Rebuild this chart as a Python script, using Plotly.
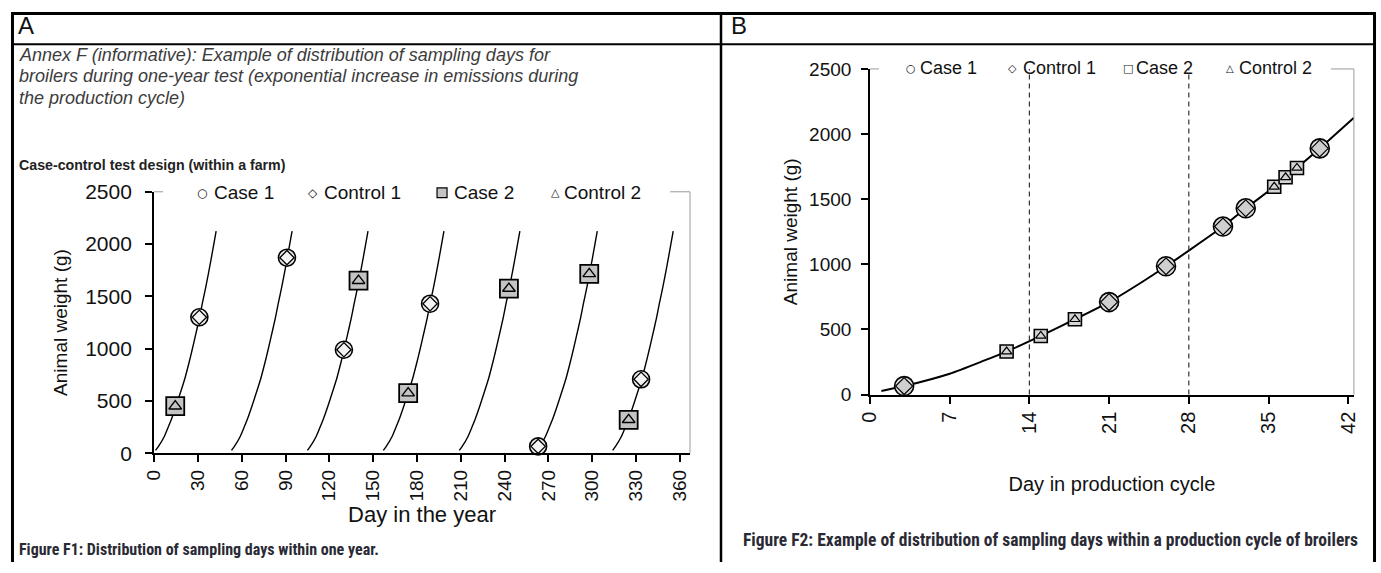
import plotly.graph_objects as go

W, H = 1381, 573
# The page keeps the browser's default 8px body margin; the captured page
# (W+16 x H+16) is fitted back into W x H, so positions are pre-compensated.
MARGIN = 8
SX = W / (W + 2 * MARGIN)
SY = H / (H + 2 * MARGIN)

# ---------------- data ----------------
# growth curve of a broiler flock (day in cycle, weight g)
growth_day = [1, 3, 7, 10, 12, 15, 18, 21, 24, 26, 28, 31, 33, 35.5, 37.5, 39.5, 42.5]
growth_weight = [28, 65, 160, 260, 330, 450, 578, 710, 870, 985, 1105, 1290, 1430, 1595, 1740, 1890, 2125]

# Panel A: start day of each production cycle within the year
cycle_start = [0, 52, 104, 156, 208, 261, 313]
# Panel A sampling days (Case 1 / Control 1 share days, Case 2 / Control 2 share days)
a_pair1_day = [31, 91, 130, 189, 263, 333.5]
a_pair1_weight = [1300, 1870, 990, 1430, 66, 707]
a_pair2_day = [14.5, 140, 174, 243, 298, 325]
a_pair2_weight = [450, 1650, 575, 1575, 1715, 320]

# Panel B sampling days within a production cycle
b_pair1_day = [3, 21, 26, 31, 33, 39.5]
b_pair1_weight = [65, 710, 985, 1290, 1430, 1890]
b_pair2_day = [12, 15, 18, 35.5, 36.5, 37.5]
b_pair2_weight = [330, 450, 578, 1595, 1668, 1740]
b_period_split = [14, 28]

a_xticks = [0, 30, 60, 90, 120, 150, 180, 210, 240, 270, 300, 330, 360]
b_xticks = [0, 7, 14, 21, 28, 35, 42]
yticks = [0, 500, 1000, 1500, 2000, 2500]

legend_names = ["Case 1", "Control 1", "Case 2", "Control 2"]


# ---------------- helpers (target pixel -> paper) ----------------
def px(x):
    v = (x / SX - MARGIN) / W
    return min(max(v, 0.0), 1.0)


def py(y):
    v = 1 - (y / SY - MARGIN) / H
    return min(max(v, 0.0), 1.0)


FONT = "Liberation Sans, Arial, sans-serif"
NARROW = "Liberation Sans Narrow, Roboto Condensed, Liberation Sans, sans-serif"

fig = go.Figure()

# ---------------- Panel A traces ----------------
for i, s in enumerate(cycle_start):
    fig.add_trace(go.Scatter(
        x=[s + d for d in growth_day], y=growth_weight, mode="lines",
        line=dict(color="black", width=1.4, shape="spline", smoothing=0.6),
        showlegend=False, hoverinfo="skip", xaxis="x", yaxis="y"))

fig.add_trace(go.Scatter(x=a_pair1_day, y=a_pair1_weight, mode="markers", name=legend_names[0],
                         marker=dict(symbol="circle", size=17, color="#ececec",
                                     line=dict(color="black", width=1.6)),
                         cliponaxis=False, showlegend=False, xaxis="x", yaxis="y"))
fig.add_trace(go.Scatter(x=a_pair1_day, y=a_pair1_weight, mode="markers", name=legend_names[1],
                         marker=dict(symbol="diamond", size=11, color="#f4f4f4",
                                     line=dict(color="black", width=1.3)),
                         cliponaxis=False, showlegend=False, xaxis="x", yaxis="y"))
fig.add_trace(go.Scatter(x=a_pair2_day, y=a_pair2_weight, mode="markers", name=legend_names[2],
                         marker=dict(symbol="square", size=18, color="#c4c4c4",
                                     line=dict(color="black", width=1.8)),
                         cliponaxis=False, showlegend=False, xaxis="x", yaxis="y"))
fig.add_trace(go.Scatter(x=a_pair2_day, y=a_pair2_weight, mode="markers", name=legend_names[3],
                         marker=dict(symbol="triangle-up-open", size=11, color="black",
                                     line=dict(color="black", width=1.4)),
                         cliponaxis=False, showlegend=False, xaxis="x", yaxis="y"))

# ---------------- Panel B traces ----------------
fig.add_trace(go.Scatter(x=growth_day, y=growth_weight, mode="lines",
                         line=dict(color="black", width=2, shape="spline", smoothing=0.6),
                         showlegend=False, hoverinfo="skip", xaxis="x2", yaxis="y2"))
fig.add_trace(go.Scatter(x=b_pair1_day, y=b_pair1_weight, mode="markers", name=legend_names[0],
                         marker=dict(symbol="circle", size=19, color="#dcdcdc",
                                     line=dict(color="black", width=1.6)),
                         cliponaxis=False, showlegend=False, xaxis="x2", yaxis="y2"))
fig.add_trace(go.Scatter(x=b_pair1_day, y=b_pair1_weight, mode="markers", name=legend_names[1],
                         marker=dict(symbol="diamond", size=13, color="#cfcfcf",
                                     line=dict(color="black", width=1.2)),
                         cliponaxis=False, showlegend=False, xaxis="x2", yaxis="y2"))
fig.add_trace(go.Scatter(x=b_pair2_day, y=b_pair2_weight, mode="markers", name=legend_names[2],
                         marker=dict(symbol="square", size=13, color="#d4d4d4",
                                     line=dict(color="black", width=1.6)),
                         cliponaxis=False, showlegend=False, xaxis="x2", yaxis="y2"))
fig.add_trace(go.Scatter(x=b_pair2_day, y=b_pair2_weight, mode="markers", name=legend_names[3],
                         marker=dict(symbol="triangle-up-open", size=9, color="black",
                                     line=dict(color="black", width=1.2)),
                         cliponaxis=False, showlegend=False, xaxis="x2", yaxis="y2"))

# ---------------- axes ----------------
common = dict(showgrid=False, zeroline=False, showline=True, linecolor="black",
              ticks="outside", ticklen=7, tickwidth=1.5, tickcolor="black")

fig.update_layout(
    xaxis=dict(domain=[px(151), px(687)], range=[0, 367], anchor="y",
               tickvals=a_xticks, tickangle=-90, linewidth=2,
               tickfont=dict(family=FONT, size=19, color="#111"),
               title=dict(text="Day in the year", font=dict(family=FONT, size=22, color="#111"), standoff=3),
               **common),
    yaxis=dict(domain=[py(455), py(190)], range=[0, 2500], anchor="x",
               tickvals=yticks, linewidth=2, ticklabelstandoff=9,
               tickfont=dict(family=FONT, size=21, color="#111"),
               title=dict(text="Animal weight (g)", font=dict(family=FONT, size=19, color="#111"), standoff=12),
               **common),
    xaxis2=dict(domain=[px(867), px(1351)], range=[0, 42.5], anchor="y2",
                tickvals=b_xticks, tickangle=-90, linewidth=2.2,
                tickfont=dict(family=FONT, size=20, color="#111"),
                title=dict(text="Day in production cycle", font=dict(family=FONT, size=20, color="#111"), standoff=44),
                **common),
    yaxis2=dict(domain=[py(395.5), py(65.5)], range=[0, 2500], anchor="x2",
                tickvals=yticks, linewidth=1.6, ticklabelstandoff=6,
                tickfont=dict(family=FONT, size=19, color="#111"),
                title=dict(text="Animal weight (g)", font=dict(family=FONT, size=19, color="#111"), standoff=6),
                **common),
)

# ---------------- shapes ----------------
shapes = []
# frames of the two plots (thin grey right/top lines)
for xr, yr in (("x domain", "y domain"), ("x2 domain", "y2 domain")):
    shapes.append(dict(type="line", xref=xr, yref=yr, x0=1, x1=1, y0=0, y1=1,
                       line=dict(color="#9a9a9a", width=1)))
    shapes.append(dict(type="line", xref=xr, yref=yr, x0=0, x1=1, y0=1, y1=1,
                       line=dict(color="#9a9a9a", width=1)))
# white boxes behind the in-plot legends
shapes.append(dict(type="rect", xref="paper", yref="paper", x0=px(160), x1=px(667),
                   y0=py(203), y1=py(178), fillcolor="white", line=dict(width=0)))
shapes.append(dict(type="rect", xref="paper", yref="paper", x0=px(876), x1=px(1328),
                   y0=py(78), y1=py(53), fillcolor="white", line=dict(width=0)))
# dashed period splits in panel B
for d in b_period_split:
    shapes.append(dict(type="line", xref="x2", yref="y2 domain", x0=d, x1=d, y0=0, y1=1,
                       line=dict(color="#333", width=1.2, dash="5px,4px")))
# legend symbol for Case 2 in panel A (grey filled square)
shapes.append(dict(type="rect", xref="paper", yref="paper", x0=px(434), x1=px(444),
                   y0=py(196), y1=py(186), fillcolor="#c4c4c4", line=dict(color="black", width=1.2)))
# panel borders
shapes.append(dict(type="line", xref="paper", yref="paper", x0=0, x1=1, y0=1 - 1.5 / H, y1=1 - 1.5 / H,
                   line=dict(color="black", width=3)))
shapes.append(dict(type="line", xref="paper", yref="paper", x0=1.5 / W, x1=1.5 / W, y0=0, y1=1,
                   line=dict(color="black", width=3)))
shapes.append(dict(type="line", xref="paper", yref="paper", x0=1 - 1.5 / W, x1=1 - 1.5 / W, y0=0, y1=1,
                   line=dict(color="black", width=3)))
shapes.append(dict(type="line", xref="paper", yref="paper", x0=px(718), x1=px(718), y0=0, y1=1,
                   line=dict(color="black", width=2.5)))
shapes.append(dict(type="line", xref="paper", yref="paper", x0=0, x1=1, y0=py(40.5), y1=py(40.5),
                   line=dict(color="black", width=2)))
fig.update_layout(shapes=shapes)

# ---------------- annotations ----------------
ann = []


def text(x, y, s, size, family=FONT, color="#111", xanchor="left"):
    ann.append(dict(x=px(x), y=py(y), xref="paper", yref="paper", text=s, showarrow=False,
                    xanchor=xanchor, yanchor="middle", align="left",
                    font=dict(family=family, size=size, color=color)))


text(13, 21, "A", 24)
text(726, 21, "B", 24)

annex = ["Annex F (informative): Example of distribution of sampling days for",
         "broilers during one-year test (exponential increase in emissions during",
         "the production cycle)"]
for k, line in enumerate(annex):
    text(14, 51 + 22 * k, "<i>" + line + "</i>", 18, color="#3c3c3c")

text(14, 163, "<b>Case-control test design (within a farm)</b>", 14.2, color="#222")

# legend panel A
SYM = "DejaVu Sans, sans-serif"
text(199, 191, "○", 12, family=SYM, xanchor="center")
text(209, 191, legend_names[0], 19)
text(310, 191, "◇", 12, family=SYM, xanchor="center")
text(319, 191, legend_names[1], 19)
text(449, 191, legend_names[2], 19)
text(552, 191, "△", 11, family=SYM, xanchor="center")
text(559, 191, legend_names[3], 19)

# legend panel B
text(908, 65, "○", 11, family=SYM, xanchor="center")
text(915, 65, legend_names[0], 18)
text(1010, 65, "◇", 11, family=SYM, xanchor="center")
text(1018, 65, legend_names[1], 18)
text(1125, 65, "□", 11, family=SYM, xanchor="center")
text(1131, 65, legend_names[2], 18)
text(1227, 65, "△", 10, family=SYM, xanchor="center")
text(1234, 65, legend_names[3], 18)

# figure captions
text(14, 553, "<b>Figure F1: Distribution of sampling days within one year.</b>", 16,
     family=NARROW, color="#2a2a35")
text(738, 543, "<b>Figure F2: Example of distribution of sampling days within a production cycle of broilers</b>",
     17.5, family=NARROW, color="#2a2a35")

fig.update_layout(annotations=ann, width=W, height=H, margin=dict(l=0, r=0, t=0, b=0),
                  paper_bgcolor="white", plot_bgcolor="white", showlegend=False)

fig.write_html("out.html")
